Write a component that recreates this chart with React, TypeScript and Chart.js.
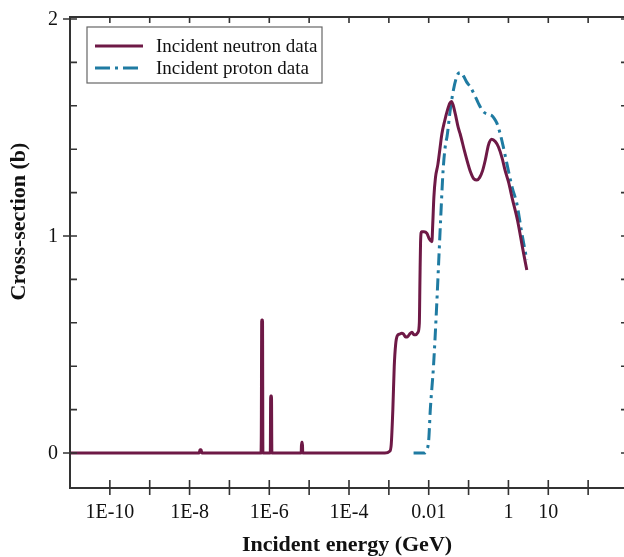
import React, { useEffect, useRef } from 'react';
import { Chart, registerables } from 'chart.js';

Chart.register(...registerables);

// ---- Data (energy in GeV, cross-section in barn) ----
const neutronEnergy = [
  1e-11, 1.74e-8, 1.82e-8, 1.95e-8, 2.04e-8,
  6.17e-7, 6.31e-7, 6.46e-7, 6.76e-7, 6.92e-7,
  1.06e-6, 1.084e-6, 1.135e-6, 1.161e-6,
  6.31e-6, 6.46e-6, 6.76e-6, 6.92e-6,
  7.94e-4, 1.047e-3, 1.148e-3, 1.259e-3, 1.365e-3, 1.479e-3, 1.622e-3, 1.862e-3,
  2.089e-3, 2.344e-3, 2.63e-3, 2.951e-3, 3.388e-3, 3.802e-3, 4.266e-3, 4.677e-3,
  5.37e-3, 5.82e-3, 6.03e-3, 6.24e-3, 6.61e-3, 7.59e-3, 9.02e-3, 1.047e-2,
  1.202e-2, 1.259e-2, 1.349e-2, 1.479e-2, 1.698e-2, 1.905e-2, 2.138e-2, 2.512e-2,
  2.951e-2, 3.388e-2, 3.715e-2, 4.074e-2, 4.677e-2, 5.495e-2, 6.166e-2, 7.943e-2,
  0.1096, 0.138, 0.1622, 0.1905, 0.2239, 0.263, 0.3162, 0.3802, 0.4677, 0.5623,
  0.6918, 0.8318, 1.0, 1.259, 1.698, 2.239, 2.891,
];
const neutronSigma = [
  0, 0, 0.015, 0.015, 0,
  0, 0.09, 0.613, 0.613, 0,
  0, 0.263, 0.263, 0,
  0, 0.05, 0.05, 0,
  0, 0.008, 0.04, 0.2, 0.4, 0.5, 0.54, 0.548,
  0.552, 0.548, 0.535, 0.536, 0.55, 0.556, 0.545, 0.545,
  0.556, 0.6, 0.8, 0.97, 1.02, 1.02, 1.012, 0.985,
  0.974, 1.05, 1.18, 1.27, 1.33, 1.4, 1.47, 1.53,
  1.58, 1.612, 1.62, 1.605, 1.56, 1.5, 1.47, 1.39,
  1.3, 1.262, 1.258, 1.27, 1.3, 1.35, 1.42, 1.446, 1.435, 1.41,
  1.36, 1.3, 1.25, 1.17, 1.07, 0.95, 0.843,
];
const protonEnergy = [
  4.17e-3, 7.59e-3, 8.71e-3, 1e-2, 1.096e-2, 1.318e-2, 1.585e-2, 1.778e-2,
  1.995e-2, 2.291e-2, 2.63e-2, 2.884e-2, 3.467e-2, 4.169e-2, 4.898e-2, 5.623e-2,
  6.457e-2, 7.586e-2, 8.913e-2, 0.1096, 0.1413, 0.1778, 0.2344, 0.3162, 0.3802,
  0.4467, 0.5129, 0.6026, 0.684, 0.8318, 1.0, 1.259, 1.622, 2.138, 2.891,
];
const protonSigma = [
  0, 0, 0.01, 0.06, 0.2, 0.4, 0.68, 0.88,
  1.08, 1.3, 1.42, 1.458, 1.58, 1.673, 1.727, 1.75,
  1.753, 1.735, 1.71, 1.688, 1.65, 1.61, 1.573, 1.56, 1.555,
  1.54, 1.52, 1.48, 1.44, 1.37, 1.3, 1.22, 1.15, 1.02, 0.889,
];

const seriesLabels = ['Incident neutron data', 'Incident proton data'];
const seriesColors = ['#6e1946', '#1f7ba2'];

const xTickValues = [1e-11, 1e-10, 1e-9, 1e-8, 1e-7, 1e-6, 1e-5, 1e-4, 1e-3, 1e-2, 1e-1, 1, 10, 100, 1000];
const xLabelValues = [1e-10, 1e-8, 1e-6, 1e-4, 1e-2, 1, 10];
const xLabelTexts = ['1E-10', '1E-8', '1E-6', '1E-4', '0.01', '1', '10'];
const yTickValues = [0, 0.2, 0.4, 0.6, 0.8, 1, 1.2, 1.4, 1.6, 1.8, 2];
const yLabelValues = [0, 1, 2];
const yLabelTexts = ['0', '1', '2'];
const xTitle = 'Incident energy (GeV)';
const yTitle = 'Cross-section (b)';

const SERIF = '"Liberation Serif", "Times New Roman", serif';
const protonDash = [12, 5, 3, 5];

const paperAxes = {
  id: 'paperAxes',
  afterDatasetsDraw(chart: any) {
    const { ctx, chartArea: a, scales } = chart;
    const xs = scales.x;
    const ys = scales.y;
    ctx.save();
    // frame
    ctx.strokeStyle = '#333';
    ctx.lineWidth = 2;
    ctx.setLineDash([]);
    ctx.strokeRect(a.left, a.top, a.right - a.left, a.bottom - a.top);
    // ticks
    ctx.lineWidth = 1.6;
    ctx.beginPath();
    xTickValues.forEach((v) => {
      const px = xs.getPixelForValue(v);
      if (px <= a.left + 2 || px >= a.right - 2) return;
      ctx.moveTo(px, a.bottom - 8);
      ctx.lineTo(px, a.bottom + 7);
      ctx.moveTo(px, a.top);
      ctx.lineTo(px, a.top + 6);
    });
    yTickValues.forEach((v) => {
      const py = ys.getPixelForValue(v);
      const major = yLabelValues.includes(v);
      ctx.moveTo(major ? a.left - 7 : a.left, py);
      ctx.lineTo(a.left + 7, py);
      ctx.moveTo(a.right - 7, py);
      ctx.lineTo(a.right, py);
    });
    ctx.stroke();

    // tick labels
    ctx.fillStyle = '#111';
    ctx.font = '20px ' + SERIF;
    ctx.textAlign = 'center';
    ctx.textBaseline = 'alphabetic';
    xLabelValues.forEach((v, i) => {
      ctx.fillText(xLabelTexts[i], xs.getPixelForValue(v), a.bottom + 30);
    });
    ctx.textAlign = 'right';
    ctx.textBaseline = 'middle';
    yLabelValues.forEach((v, i) => {
      ctx.fillText(yLabelTexts[i], a.left - 12, ys.getPixelForValue(v) + 1);
    });

    // axis titles
    ctx.font = 'bold 22px ' + SERIF;
    ctx.textAlign = 'center';
    ctx.textBaseline = 'alphabetic';
    ctx.fillText(xTitle, (a.left + a.right) / 2 - 2, a.bottom + 63);
    ctx.save();
    ctx.translate(a.left - 45, (a.top + a.bottom) / 2 - 31);
    ctx.rotate(-Math.PI / 2);
    ctx.fillText(yTitle, 0, 0);
    ctx.restore();

    // legend
    const bx = a.left + 17;
    const by = a.top + 10;
    const bw = 235;
    const bh = 56;
    ctx.fillStyle = '#fff';
    ctx.fillRect(bx, by, bw, bh);
    ctx.strokeStyle = '#666';
    ctx.lineWidth = 1.2;
    ctx.strokeRect(bx, by, bw, bh);
    const rows = [by + 19, by + 41];
    ctx.font = '19px ' + SERIF;
    ctx.textAlign = 'left';
    ctx.textBaseline = 'alphabetic';
    rows.forEach((ry, i) => {
      ctx.strokeStyle = seriesColors[i];
      ctx.lineWidth = 3;
      ctx.setLineDash(i === 1 ? [15, 5, 3, 5] : []);
      ctx.beginPath();
      ctx.moveTo(bx + 8, ry);
      ctx.lineTo(bx + 56, ry);
      ctx.stroke();
      ctx.setLineDash([]);
      ctx.fillStyle = '#111';
      ctx.fillText(seriesLabels[i], bx + 69, ry + 6);
    });
    ctx.restore();
  },
};

export default function App() {
  const canvasRef = useRef<HTMLCanvasElement | null>(null);

  useEffect(() => {
    const canvas = canvasRef.current;
    if (!canvas) return;
    const chart = new Chart(canvas, {
      type: 'line',
      data: {
        datasets: [
          {
            label: seriesLabels[0],
            data: neutronEnergy.map((e, i) => ({ x: e, y: neutronSigma[i] })),
            borderColor: seriesColors[0],
            borderWidth: 3,
            pointRadius: 0,
            fill: false,
            cubicInterpolationMode: 'monotone',
          },
          {
            label: seriesLabels[1],
            data: protonEnergy.map((e, i) => ({ x: e, y: protonSigma[i] })),
            borderColor: seriesColors[1],
            borderWidth: 3,
            borderDash: protonDash,
            pointRadius: 0,
            fill: false,
            cubicInterpolationMode: 'monotone',
          },
        ],
      },
      options: {
        animation: false,
        responsive: false,
        maintainAspectRatio: false,
        devicePixelRatio: 1,
        layout: { padding: { left: 70, top: 17, right: 4, bottom: 69 } },
        scales: {
          x: { type: 'logarithmic', min: 1e-11, max: 1e3, display: false },
          y: { type: 'linear', min: -0.161, max: 2.009, display: false },
        },
        plugins: {
          legend: { display: false },
          tooltip: { enabled: false },
        },
      },
      plugins: [paperAxes],
    });
    return () => chart.destroy();
  }, []);

  return (
    <div style={{ position: 'fixed', left: 0, top: 0, width: 632, height: 557, background: '#fff' }}>
      <canvas ref={canvasRef} width={632} height={557} style={{ width: 632, height: 557, display: 'block' }} />
    </div>
  );
}
